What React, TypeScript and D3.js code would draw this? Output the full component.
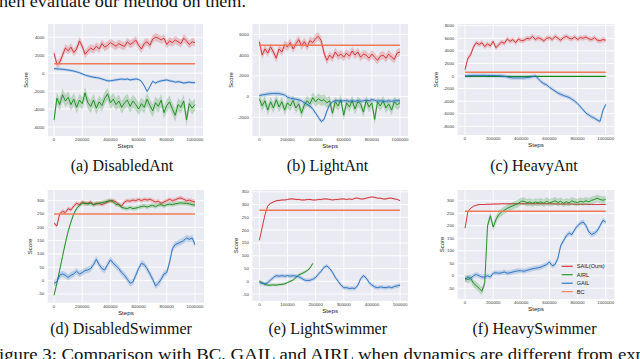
import * as d3 from 'd3';

// colours of the four methods
const SAIL_COLOR = '#d62728';
const AIRL_COLOR = '#138a13';
const GAIL_COLOR = '#1f6cc0';
const BC_COLOR = '#f07a55';

const legendNames = ['SAIL(Ours)', 'AIRL', 'GAIL', 'BC'];

const stepTicks = [0, 200000, 400000, 600000, 800000, 1000000];
const stepTicksShort = [0, 100000, 200000, 300000, 400000, 500000];

// (a) DisabledAnt, one value every 20000 steps
const sailA = [2200, 1000, 1200, 2000, 2800, 2500, 2900, 2300, 2700, 3600, 3000, 2100, 2500, 2800, 2600, 3000, 2700, 3300, 2900, 3100, 3400, 3200, 3000, 3300, 3100, 3000, 3500, 3200, 3400, 3700, 3100, 2700, 3300, 3500, 3100, 3800, 4000, 3900, 3700, 3900, 3200, 3600, 3400, 3700, 3500, 3300, 3900, 3600, 3200, 3500, 3400];
const airlA = [-5200, -2800, -3500, -2400, -3100, -2700, -3500, -2900, -3800, -3000, -3400, -2200, -3300, -3700, -3000, -3900, -3200, -3600, -2800, -2300, -3300, -2900, -3500, -3100, -3800, -3300, -3000, -3700, -3100, -3500, -4000, -3400, -3800, -2900, -3600, -4200, -3300, -3700, -3000, -4400, -3600, -3200, -4000, -4700, -3500, -3800, -3100, -5200, -3400, -3900, -3500];
const gailA = [500, 480, 460, 430, 400, 350, 300, 220, 150, 50, -80, -200, -300, -380, -450, -500, -550, -650, -750, -850, -850, -800, -750, -700, -650, -700, -650, -750, -700, -650, -700, -900, -1400, -2050, -1500, -900, -1100, -950, -850, -800, -750, -850, -900, -1000, -950, -1000, -1100, -1050, -1000, -1050, -1050];
const bcA = [1050, 1050];
const yTicksA = [-6000, -4000, -2000, 0, 2000, 4000];

// (b) LightAnt
const sailB = [5300, 4000, 4600, 4200, 4800, 4300, 3700, 4600, 4300, 5000, 4800, 5200, 4600, 5100, 5500, 4900, 5300, 4800, 5400, 5200, 5600, 5800, 5400, 4200, 3500, 4000, 3700, 4300, 3900, 4100, 3800, 4200, 3900, 4400, 4000, 4300, 3800, 4100, 4000, 3700, 4100, 3800, 3500, 3900, 4000, 3700, 4100, 3800, 3600, 4200, 4300];
const airlB = [-200, -900, -400, -1300, -500, -1100, -300, -1000, -500, -1300, -600, -900, -400, -1100, -700, -1600, -800, -400, -700, -100, -500, -200, -400, -300, -600, -400, -1600, -500, -900, -300, -1800, -600, -1000, -400, -1200, -500, -700, -1500, -400, -1000, -600, -2200, -500, -900, -400, -1100, -700, -1300, -500, -800, -600];
const gailB = [100, 150, 200, 250, 280, 300, 300, 280, 230, 150, -50, -150, -200, -250, -300, -400, -600, -750, -900, -1200, -1600, -2000, -2400, -2200, -1400, -800, -500, -400, -400, -450, -400, -400, -450, -400, -450, -400, -450, -400, -350, -400, -300, -350, -450, -400, -450, -450, -400, -450, -400, -400, -400];
const bcB = [4950, 4950];
const yTicksB = [-2000, 0, 2000, 4000, 6000];

// (c) HeavyAnt
const sailC = [1000, 2800, 3400, 4600, 5300, 5000, 5300, 4700, 5100, 4800, 5500, 4500, 5000, 5400, 5200, 5900, 5500, 5800, 5300, 5900, 5600, 5700, 6000, 5900, 6300, 5800, 6100, 5900, 5600, 6000, 6100, 5800, 6300, 6000, 5700, 6100, 6300, 6000, 5900, 6200, 5800, 6100, 6000, 6200, 5900, 5800, 6100, 5700, 5600, 5800, 5700];
const airlC = [-60, -60];
const gailC = [0, 50, 80, 100, 100, 100, 100, 100, 80, 80, 80, 50, 50, 0, -50, -150, -250, -300, -300, -300, -300, -300, -250, -200, -100, 0, -400, -900, -1200, -1400, -1800, -2100, -2400, -2700, -2900, -3100, -3250, -3400, -3700, -4000, -4400, -4900, -5400, -5900, -6200, -6500, -6700, -7000, -7200, -5500, -4500];
const bcC = [600, 600];
const yTicksC = [-8000, -6000, -4000, -2000, 0, 2000, 4000, 6000, 8000];

// (d) DisabledSwimmer
const sailD = [215, 205, 250, 260, 255, 270, 265, 280, 290, 285, 295, 290, 290, 295, 285, 290, 290, 285, 290, 295, 300, 300, 295, 285, 280, 295, 300, 298, 302, 300, 305, 300, 305, 302, 305, 300, 295, 298, 290, 295, 300, 305, 300, 303, 308, 310, 305, 300, 302, 298, 295];
const airlD = [-55, -10, 40, 90, 140, 185, 220, 250, 270, 282, 290, 290, 288, 290, 285, 288, 290, 293, 295, 298, 300, 295, 285, 285, 275, 272, 270, 275, 270, 272, 275, 278, 280, 276, 280, 282, 278, 283, 285, 280, 285, 287, 285, 288, 290, 292, 290, 290, 288, 285, 283];
const gailD = [-10, -5, 20, 25, 20, 12, 20, 25, 35, 25, 30, 38, 40, 45, 60, 80, 60, 45, 40, 60, 78, 65, 55, 45, 30, 20, 5, -10, -5, 20, 45, 65, 60, 45, 25, 5, -20, -10, 5, 25, 30, 70, 120, 135, 140, 145, 150, 160, 155, 160, 135];
const bcD = [250, 250];
const yTicksSwim = [-50, 0, 50, 100, 150, 200, 250, 300];

// (e) LightSwimmer, one value every 10000 steps
const sailE = [160, 210, 260, 295, 305, 310, 315, 316, 318, 318, 320, 322, 322, 320, 320, 318, 318, 320, 320, 318, 318, 320, 320, 322, 322, 320, 318, 320, 320, 322, 322, 320, 322, 320, 325, 325, 322, 322, 325, 328, 330, 328, 325, 325, 322, 322, 325, 325, 322, 320, 315];
const airlE = [0, -5, -12, -15, -15, -14, -15, -13, -12, -10, -5, 0, 5, 15, 25, 30, 35, 42, 52, 70];
const gailE = [-5, -8, -10, -5, 5, 15, 22, 20, 22, 20, 22, 20, 22, 20, 18, 12, 5, 3, 4, 8, 15, 28, 40, 55, 60, 50, 35, 15, 0, -15, -25, -25, -28, -27, -28, -15, 10, 22, 12, -5, -15, -22, -25, -22, -24, -25, -22, -25, -20, -18, -15];
const bcE = [278, 278];
const yTicksE = [-50, 0, 50, 100, 150, 200, 250, 300, 350];

// (f) HeavySwimmer
const sailF = [190, 255, 270, 278, 282, 285, 285, 285, 286, 286, 287, 287, 287, 288, 288, 288, 288, 288, 288, 288, 288, 288, 288, 288, 288, 288, 288, 288, 288, 288, 288, 288, 287, 287, 287, 287, 287, 287, 287, 286, 286, 286, 286, 286, 285, 285, 285, 285, 285, 285, 285];
const airlF = [-10, -15, -10, -30, -40, -50, -62, -30, 200, 240, 195, 225, 245, 255, 262, 270, 275, 280, 285, 290, 298, 298, 292, 295, 290, 295, 292, 296, 290, 298, 292, 295, 300, 293, 298, 290, 296, 292, 300, 295, 293, 298, 295, 300, 296, 302, 305, 310, 305, 302, 305];
const gailF = [-15, -5, -10, 0, 5, 0, -5, -5, 0, -5, 10, 12, 10, 12, 15, 10, 12, 15, 18, 20, 20, 18, 22, 25, 28, 30, 32, 35, 40, 45, 55, 40, 45, 70, 120, 140, 160, 170, 165, 185, 200, 210, 215, 200, 175, 165, 170, 180, 200, 222, 215];
const bcF = [258, 258];

type Series = { color: string; values: number[]; step: number; spread: number; width: number };

const mk = (color: string, values: number[], step: number, spread: number, width = 0.9): Series => ({ color, values, step, spread, width });

const panels = [
  {
    id: 'a', caption: '(a) DisabledAnt', left: 48, right: 203, top: 24, bottom: 136,
    xDomain: [-43000, 1057000], yDomain: [-7000, 5480], xTicks: stepTicks, yTicks: yTicksA, scoreX: 25.5, captionX: 122, captionY: 170.7,
    series: [mk(SAIL_COLOR, sailA, 20000, 450), mk(AIRL_COLOR, airlA, 20000, 700), mk(GAIL_COLOR, gailA, 20000, 150), mk(BC_COLOR, bcA, 1000000, 0, 1.4)],
  },
  {
    id: 'b', caption: '(b) LightAnt', left: 252.3, right: 408, top: 24, bottom: 136,
    xDomain: [-50000, 1057000], yDomain: [-3800, 7000], xTicks: stepTicks, yTicks: yTicksB, scoreX: 230.7, captionX: 327.5, captionY: 170.7,
    series: [mk(SAIL_COLOR, sailB, 20000, 400), mk(AIRL_COLOR, airlB, 20000, 500), mk(GAIL_COLOR, gailB, 20000, 200), mk(BC_COLOR, bcB, 1000000, 0, 1.4)],
  },
  {
    id: 'c', caption: '(c) HeavyAnt', left: 457.7, right: 614.3, top: 24, bottom: 135,
    xDomain: [-52000, 1061000], yDomain: [-9380, 8270], xTicks: stepTicks, yTicks: yTicksC, scoreX: 436, captionX: 534, captionY: 170.7,
    series: [mk(SAIL_COLOR, sailC, 20000, 400), mk(AIRL_COLOR, airlC, 1000000, 60, 1.4), mk(GAIL_COLOR, gailC, 20000, 300), mk(BC_COLOR, bcC, 1000000, 0, 1.4)],
  },
  {
    id: 'd', caption: '(d) DisabledSwimmer', left: 47.7, right: 204, top: 190, bottom: 302.7,
    xDomain: [-45000, 1064000], yDomain: [-83, 340], xTicks: stepTicks, yTicks: yTicksSwim, scoreX: 30, captionX: 121, captionY: 334,
    series: [mk(SAIL_COLOR, sailD, 20000, 8), mk(AIRL_COLOR, airlD, 20000, 8), mk(GAIL_COLOR, gailD, 20000, 12), mk(BC_COLOR, bcD, 1000000, 0, 1.4)],
  },
  {
    id: 'e', caption: '(e) LightSwimmer', left: 252.3, right: 408, top: 190, bottom: 301,
    xDomain: [-25000, 528000], yDomain: [-77, 357], xTicks: stepTicksShort, yTicks: yTicksE, scoreX: 236, captionX: 327.7, captionY: 334,
    series: [mk(SAIL_COLOR, sailE, 10000, 3), mk(AIRL_COLOR, airlE, 10000, 5), mk(GAIL_COLOR, gailE, 10000, 8), mk(BC_COLOR, bcE, 500000, 0, 1.4)],
  },
  {
    id: 'f', caption: '(f) HeavySwimmer', left: 457.7, right: 614.3, top: 190, bottom: 299,
    xDomain: [-52000, 1061000], yDomain: [-93, 343], xTicks: stepTicks, yTicks: yTicksSwim, scoreX: 441.7, captionX: 534.5, captionY: 334,
    series: [mk(SAIL_COLOR, sailF, 20000, 2), mk(AIRL_COLOR, airlF, 20000, 15), mk(GAIL_COLOR, gailF, 20000, 10), mk(BC_COLOR, bcF, 1000000, 0, 1.4)],
    legend: true,
  },
];

const SANS = '"Liberation Sans", Arial, sans-serif';
const SERIF = '"Liberation Serif", "Times New Roman", serif';

function Panel({ p }: { p: any }) {
  const x = d3.scaleLinear().domain(p.xDomain).range([p.left, p.right]);
  const y = d3.scaleLinear().domain(p.yDomain).range([p.bottom, p.top]);
  const midX = (p.left + p.right) / 2;
  const midY = (p.top + p.bottom) / 2;

  return (
    <g>
      <defs>
        <clipPath id={`clip-${p.id}`}>
          <rect x={p.left} y={p.top} width={p.right - p.left} height={p.bottom - p.top} />
        </clipPath>
      </defs>
      <rect x={p.left} y={p.top} width={p.right - p.left} height={p.bottom - p.top} fill="#eaeaf2" />
      {p.xTicks.map((t: number) => (
        <line key={`gx${t}`} x1={x(t)} x2={x(t)} y1={p.top} y2={p.bottom} stroke="#fff" strokeWidth={0.9} />
      ))}
      {p.yTicks.map((t: number) => (
        <line key={`gy${t}`} x1={p.left} x2={p.right} y1={y(t)} y2={y(t)} stroke="#fff" strokeWidth={0.9} />
      ))}
      <g clipPath={`url(#clip-${p.id})`}>
        {p.series.map((s: Series, k: number) => {
          const area = d3.area<number>()
            .x((_, i) => x(i * s.step))
            .y0(d => y(d - s.spread))
            .y1(d => y(d + s.spread));
          const path = d3.line<number>().x((_, i) => x(i * s.step)).y(d => y(d));
          return (
            <g key={k}>
              {s.spread > 0 && <path d={area(s.values) || ''} fill={s.color} fillOpacity={0.22} />}
              <path d={path(s.values) || ''} fill="none" stroke={s.color} strokeWidth={s.width} strokeLinejoin="round" />
            </g>
          );
        })}
      </g>
      <g fontFamily={SANS} fontSize={4.3} fill="#333">
        {p.xTicks.map((t: number) => (
          <text key={`tx${t}`} x={x(t)} y={p.bottom + 5.2} textAnchor="middle">{String(t)}</text>
        ))}
        {p.yTicks.map((t: number) => (
          <text key={`ty${t}`} x={p.left - 3.5} y={y(t) + 1.5} textAnchor="end">{String(t)}</text>
        ))}
      </g>
      <text x={midX} y={p.bottom + 11.8} textAnchor="middle" fontFamily={SANS} fontSize={6.2} fill="#222">Steps</text>
      <text transform={`translate(${p.scoreX},${midY}) rotate(-90)`} textAnchor="middle" dy="0.35em" fontFamily={SANS} fontSize={6} fill="#222">Score</text>
      <text x={p.captionX} y={p.captionY} textAnchor="middle" fontFamily={SERIF} fontSize={16} fill="#111">{p.caption}</text>
      {p.legend && (
        <g fontFamily={SANS} fontSize={5.6} fill="#222">
          {p.series.map((s: Series, i: number) => (
            <g key={i} transform={`translate(561.7,${266.3 + i * 8.45})`}>
              <line x1={0} x2={11} y1={0} y2={0} stroke={s.color} strokeWidth={1.1} />
              <text x={15} y={2}>{legendNames[i]}</text>
            </g>
          ))}
        </g>
      )}
    </g>
  );
}

export default function App() {
  return (
    <svg width={640} height={359} style={{ position: 'fixed', left: 0, top: 0, background: '#fff' }}>
      <text x={-1} y={7} fontFamily={SERIF} fontSize={16} fill="#111" textLength={247} lengthAdjust="spacingAndGlyphs">hen evaluate our method on them.</text>
      {panels.map(p => <Panel key={p.id} p={p} />)}
      <text x={-1} y={360} fontFamily={SERIF} fontSize={16} fill="#111" textLength={646} lengthAdjust="spacingAndGlyphs">igure 3: Comparison with BC, GAIL and AIRL when dynamics are different from exp</text>
    </svg>
  );
}
